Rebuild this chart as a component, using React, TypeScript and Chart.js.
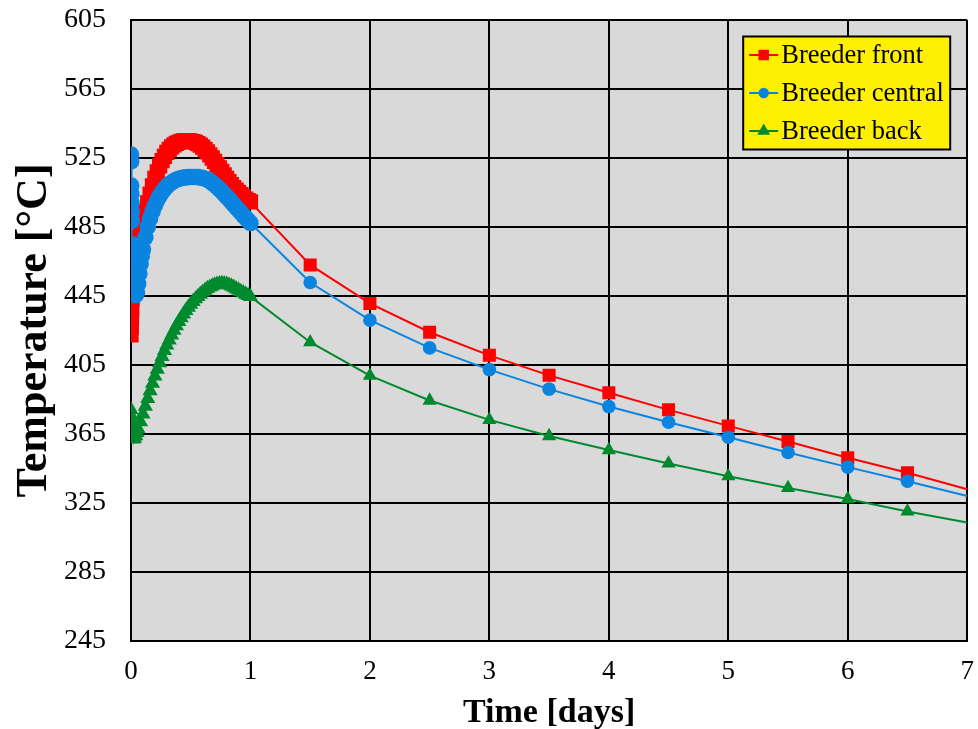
import { useEffect, useRef } from 'react';
import { Chart, registerables } from 'chart.js';

Chart.register(...registerables);

// Time in days and breeder temperatures in °C for the three positions.
const frontTime = [0, 0.002, 0.004, 0.006, 0.008, 0.01, 0.014, 0.02, 0.03, 0.04, 0.05, 0.06, 0.07, 0.08, 0.09, 0.1,
  0.12, 0.14, 0.16, 0.18, 0.2, 0.22, 0.24, 0.26, 0.28, 0.3, 0.32, 0.34, 0.36, 0.38, 0.4, 0.42, 0.44, 0.46, 0.48, 0.5,
  0.52, 0.54, 0.56, 0.58, 0.6, 0.62, 0.64, 0.66, 0.68, 0.7, 0.72, 0.74, 0.76, 0.78, 0.8, 0.82, 0.84, 0.86, 0.88, 0.9,
  0.92, 0.94, 0.96, 0.98, 1, 1.5, 2, 2.5, 3, 3.5, 4, 4.5, 5, 5.5, 6, 6.5, 7];
const frontTemp = [422.5, 427, 432, 437.5, 443, 448, 453, 458, 463.5, 468, 472, 475.5, 479, 482.5, 486, 489,
  494, 499, 504, 508.8, 513.2, 517, 520.5, 523.5, 526, 528.2, 530, 531.5, 532.6, 533.5, 534.1, 534.6, 534.9, 535, 535, 534.8,
  534.5, 534, 533.3, 532.4, 531.3, 530, 528.5, 526.8, 525, 523.1, 521.2, 519.2, 517.2, 515.2, 513.2, 511.3, 509.5, 507.8, 506.3, 505,
  503.7, 502.4, 501.2, 500.3, 499.5, 463, 440.7, 424, 410.6, 399, 388.9, 379, 369.7, 360.7, 351.2, 342.5, 333];

const centralTime = [0, 0.001, 0.002, 0.003, 0.004, 0.005, 0.006, 0.007, 0.008, 0.01, 0.012, 0.015, 0.02, 0.025, 0.03, 0.04,
  0.05, 0.06, 0.07, 0.08, 0.09, 0.1,
  0.12, 0.14, 0.16, 0.18, 0.2, 0.22, 0.24, 0.26, 0.28, 0.3, 0.32, 0.34, 0.36, 0.38, 0.4, 0.42, 0.44, 0.46, 0.48, 0.5,
  0.52, 0.54, 0.56, 0.58, 0.6, 0.62, 0.64, 0.66, 0.68, 0.7, 0.72, 0.74, 0.76, 0.78, 0.8, 0.82, 0.84, 0.86, 0.88, 0.9,
  0.92, 0.94, 0.96, 0.98, 1, 1.5, 2, 2.5, 3, 3.5, 4, 4.5, 5, 5.5, 6, 6.5, 7];
const centralTemp = [527, 523, 509, 504, 499, 494, 488.5, 475, 471.5, 467, 462, 457, 452, 448, 446, 445.5,
  447, 452, 458, 463.5, 468, 472,
  479, 485, 490, 494, 497.5, 500.5, 503, 505.2, 507, 508.5, 509.8, 510.8, 511.7, 512.4, 512.9, 513.3, 513.6, 513.8, 513.9, 514,
  514, 514, 513.9, 513.7, 513.4, 513, 512.4, 511.6, 510.6, 509.5, 508.3, 507, 505.6, 504.1, 502.6, 501.1, 499.5, 498, 496.4, 494.9,
  493.3, 491.8, 490.3, 488.8, 487.3, 452.8, 431, 414.9, 402.3, 391, 380.9, 371.8, 363.1, 354.3, 345.8, 337.6, 329.1];

const backTime = [0, 0.002, 0.004, 0.006, 0.008, 0.01, 0.015, 0.02, 0.03, 0.04, 0.05,
  0.06, 0.08, 0.1, 0.12, 0.14, 0.16, 0.18, 0.2, 0.22, 0.24, 0.26, 0.28, 0.3, 0.32, 0.34, 0.36, 0.38, 0.4, 0.42, 0.44,
  0.46, 0.48, 0.5, 0.52, 0.54, 0.56, 0.58, 0.6, 0.62, 0.64, 0.66, 0.68, 0.7, 0.72, 0.74, 0.76, 0.78, 0.8, 0.82, 0.84,
  0.86, 0.88, 0.9, 0.92, 0.94, 0.96, 0.98, 1, 1.5, 2, 2.5, 3, 3.5, 4, 4.5, 5, 5.5, 6, 6.5, 7];
const backTemp = [379, 375.5, 372, 368.5, 365.5, 363.5, 362.3, 362, 362.6, 364, 365.8,
  367.8, 372, 376.5, 381, 385.5, 390, 394.3, 398.5, 402.5, 406.3, 409.9, 413.3, 416.5, 419.5, 422.4, 425.1, 427.7, 430.1, 432.4, 434.5,
  436.5, 438.4, 440.2, 441.8, 443.3, 444.7, 446, 447.2, 448.3, 449.3, 450.1, 450.8, 451.4, 451.8, 452.1, 452.2, 452.1, 451.8, 451.3, 450.7,
  450, 449.2, 448.4, 447.6, 446.8, 446, 445.3, 444.6, 418.2, 398.8, 384.4, 373.2, 363.8, 355.7, 347.9, 340.5, 333.7, 327.3, 320.1, 313.7];

const seriesLabels = ['Breeder front', 'Breeder central', 'Breeder back'];
const xTitle = 'Time [days]';
const yTitle = 'Temperature [°C]';
const xMin = 0;
const xMax = 7;
const xStep = 1;
const yMin = 245;
const yMax = 605;
const yStep = 40;

const RED = '#FF0000';
const BLUE = '#0B84E0';
const GREEN = '#008A2E';
const PLOT_BG = '#D9D9D9';
const LEGEND_BG = '#FFF000';
const SERIF = '"Liberation Serif", "Times New Roman", serif';

const toPoints = (t: number[], v: number[]) =>
  t.slice(0, Math.min(t.length, v.length)).map((x, i) => ({ x, y: v[i] }));

type Marker = 'rect' | 'circle' | 'triangle';

function drawMarker(ctx: CanvasRenderingContext2D, style: Marker, x: number, y: number, size: number) {
  ctx.beginPath();
  if (style === 'rect') {
    ctx.rect(x - size / 2, y - size / 2, size, size);
  } else if (style === 'circle') {
    ctx.arc(x, y, size / 2, 0, Math.PI * 2);
  } else {
    const r = size * 0.62;
    ctx.moveTo(x, y - r);
    ctx.lineTo(x + r * 0.866, y + r * 0.5);
    ctx.lineTo(x - r * 0.866, y + r * 0.5);
    ctx.closePath();
  }
  ctx.fill();
}

// Grey plot background behind the grid.
const plotBackground = {
  id: 'plotBackground',
  beforeDraw(chart: any) {
    const { ctx, chartArea, width, height } = chart;
    ctx.save();
    ctx.fillStyle = '#FFFFFF';
    ctx.fillRect(0, 0, width, height);
    ctx.fillStyle = PLOT_BG;
    ctx.fillRect(chartArea.left, chartArea.top, chartArea.right - chartArea.left, chartArea.bottom - chartArea.top);
    ctx.restore();
  },
};

// Boxed legend in the upper right corner of the plot.
const boxedLegend = {
  id: 'boxedLegend',
  afterDatasetsDraw(chart: any) {
    const { ctx, chartArea } = chart;
    const w = 207;
    const h = 113;
    const x = chartArea.right - 224;
    const y = chartArea.top + 16.5;
    ctx.save();
    ctx.fillStyle = LEGEND_BG;
    ctx.fillRect(x, y, w, h);
    ctx.lineWidth = 2;
    ctx.strokeStyle = '#000000';
    ctx.strokeRect(x, y, w, h);
    chart.data.datasets.forEach((ds: any, i: number) => {
      const cy = y + 18.5 + i * 38;
      ctx.strokeStyle = ds.borderColor;
      ctx.lineWidth = 2;
      ctx.beginPath();
      ctx.moveTo(x + 6, cy);
      ctx.lineTo(x + 35, cy);
      ctx.stroke();
      ctx.fillStyle = ds.backgroundColor;
      drawMarker(ctx, ds.pointStyle, x + 20.5, cy, ds.pointStyle === 'triangle' ? 12 : 10.5);
      ctx.fillStyle = '#000000';
      ctx.font = `26.5px ${SERIF}`;
      ctx.textBaseline = 'middle';
      ctx.textAlign = 'left';
      ctx.fillText(ds.label, x + 38, cy + 1);
    });
    ctx.restore();
  },
};

export default function App() {
  const canvasRef = useRef<HTMLCanvasElement | null>(null);

  useEffect(() => {
    document.body.style.margin = '0';
    document.body.style.background = '#FFFFFF';
    const canvas = canvasRef.current;
    if (!canvas) return;

    // Markers: none on the final point; the densely sampled first day uses slightly heavier markers.
    const markerRadius = (n: number, r: number, dense: number) => (c: any) => {
      if (c.dataIndex === n - 1) return 0;
      const p = c.raw as { x: number } | undefined;
      return p && p.x <= 1 ? dense : r;
    };
    const series = [
      { label: seriesLabels[0], data: toPoints(frontTime, frontTemp), color: RED, style: 'rect', r: 9.2, dense: 10.8, order: 3 },
      { label: seriesLabels[1], data: toPoints(centralTime, centralTemp), color: BLUE, style: 'circle', r: 6.8, dense: 8.3, order: 2 },
      { label: seriesLabels[2], data: toPoints(backTime, backTemp), color: GREEN, style: 'triangle', r: 8.2, dense: 8.8, order: 1 },
    ];

    const chart = new Chart(canvas, {
      type: 'scatter',
      data: {
        datasets: series.map((s) => ({
          label: s.label,
          data: s.data,
          showLine: true,
          borderColor: s.color,
          backgroundColor: s.color,
          borderWidth: 2,
          tension: 0,
          pointStyle: s.style as any,
          pointRadius: markerRadius(s.data.length, s.r, s.dense) as any,
          pointHoverRadius: markerRadius(s.data.length, s.r, s.dense) as any,
          pointBorderWidth: 0,
          pointBackgroundColor: s.color,
          order: s.order,
        })),
      },
      options: {
        responsive: false,
        animation: false,
        events: [],
        layout: { padding: { left: 0, right: 10, top: 20, bottom: 0 } },
        plugins: {
          legend: { display: false },
          tooltip: { enabled: false },
        },
        scales: {
          x: {
            type: 'linear',
            min: xMin,
            max: xMax,
            ticks: { stepSize: xStep, color: '#000000', padding: 15, font: { family: SERIF, size: 27 } },
            grid: { color: '#000000', lineWidth: 2, drawTicks: false },
            border: { color: '#000000', width: 2 },
            title: {
              display: true,
              text: xTitle,
              color: '#000000',
              font: { family: SERIF, size: 34, weight: 'bold' },
              padding: { top: 0, bottom: -5 },
            },
            afterFit: (scale: any) => {
              scale.height = 88;
              scale.paddingLeft = 0;
              scale.paddingRight = 0;
            },
          },
          y: {
            type: 'linear',
            min: yMin,
            max: yMax,
            ticks: { stepSize: yStep, color: '#000000', padding: 25, font: { family: SERIF, size: 28 } },
            grid: { color: '#000000', lineWidth: 2, drawTicks: false },
            border: { color: '#000000', width: 2 },
            title: {
              display: true,
              text: yTitle,
              color: '#000000',
              font: { family: SERIF, size: 44, weight: 'bold' },
              padding: { top: 8, bottom: 0 },
            },
            afterFit: (scale: any) => {
              scale.width = 131;
              scale.paddingTop = 0;
              scale.paddingBottom = 0;
            },
          },
        },
      },
      plugins: [plotBackground, boxedLegend],
    });

    return () => chart.destroy();
  }, []);

  return (
    <div style={{ width: 978, height: 729 }}>
      <canvas ref={canvasRef} width={978} height={729} style={{ display: 'block', width: 978, height: 729 }} />
    </div>
  );
}
